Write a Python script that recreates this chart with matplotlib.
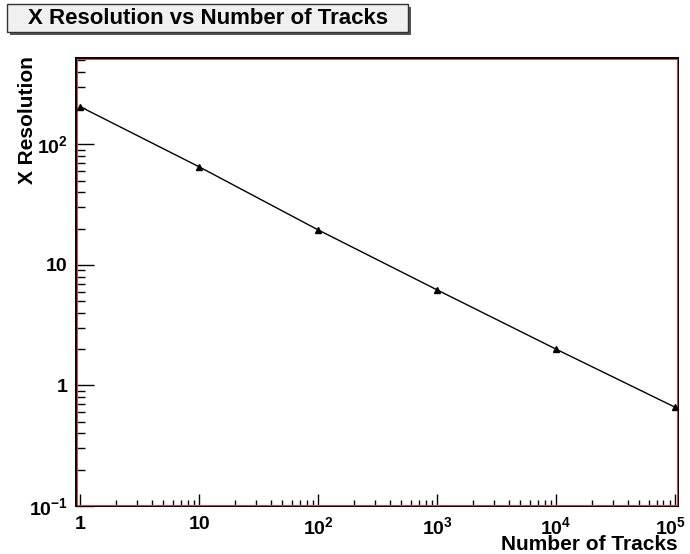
import numpy as np
import matplotlib
matplotlib.use("Agg")
import matplotlib.pyplot as plt
import matplotlib.transforms as mtransforms
from matplotlib.patches import Rectangle
from matplotlib.ticker import LogLocator, FixedLocator, FixedFormatter, NullFormatter

plt.rcParams['font.family'] = ['Liberation Sans', 'DejaVu Sans']
plt.rcParams['font.weight'] = 'bold'
plt.rcParams['mathtext.fontset'] = 'custom'
plt.rcParams['mathtext.rm'] = 'Liberation Sans:bold'
plt.rcParams['mathtext.it'] = 'Liberation Sans:bold'
plt.rcParams['mathtext.bf'] = 'Liberation Sans:bold'

# data
n_tracks = [1, 10, 100, 1000, 10000, 100000]
x_resolution = [205, 65, 19.5, 6.2, 2.0, 0.66]

x_ticks = [1, 10, 100, 1000, 10000, 100000]
x_tick_labels = ['1', '10', '$10^{2}$', '$10^{3}$', '$10^{4}$', '$10^{5}$']
y_ticks = [0.1, 1, 10, 100]
y_tick_labels = ['$10^{-1}$', '1', '10', '$10^{2}$']

W, H = 690, 554
fig = plt.figure(figsize=(W / 100, H / 100), dpi=100)
L, R, T, B = 76, 678, 58, 506
ax = fig.add_axes([L / W, 1 - B / H, (R - L) / W, (B - T) / H])

ax.plot(n_tracks, x_resolution, color='black', lw=1.0, marker='^', ms=5,
        markerfacecolor='black', markeredgecolor='black', clip_on=False, zorder=5)

ax.set_xscale('log')
ax.set_yscale('log')
ax.set_xlim(0.92, 1.06e5)
ax.set_ylim(0.1, 520)

ax.xaxis.set_major_locator(FixedLocator(x_ticks))
ax.xaxis.set_major_formatter(FixedFormatter(x_tick_labels))
ax.xaxis.set_minor_locator(LogLocator(base=10, subs=np.arange(2, 10)))
ax.xaxis.set_minor_formatter(NullFormatter())
ax.yaxis.set_major_locator(FixedLocator(y_ticks))
ax.yaxis.set_major_formatter(FixedFormatter(y_tick_labels))
ax.yaxis.set_minor_locator(LogLocator(base=10, subs=np.arange(2, 10)))
ax.yaxis.set_minor_formatter(NullFormatter())

ax.tick_params(axis='x', which='major', direction='in', length=9, width=1, pad=7,
               labelsize=14, top=False)
ax.tick_params(axis='x', which='minor', direction='in', length=4.5, width=1, top=False)
ax.tick_params(axis='y', which='major', direction='in', length=13, width=1, pad=6,
               labelsize=14, right=False)
ax.tick_params(axis='y', which='minor', direction='in', length=6.5, width=1, right=False)
for lab in ax.get_xticklabels() + ax.get_yticklabels():
    lab.set_fontweight('bold')

# nudge the last x label left so it stays inside the canvas
shift = mtransforms.ScaledTranslation(-4 / 100, 0, fig.dpi_scale_trans)
last = ax.xaxis.get_major_ticks()[-1].label1
last.set_transform(last.get_transform() + shift)

for s in ax.spines.values():
    s.set_color('black')
    s.set_linewidth(1.4)
    s.set_zorder(2)

# thin red inner frame line, right inside the black frame
ax.add_artist(Rectangle(((L + 1.3) / W, 1 - (B - 1.3) / H), (R - L - 2.6) / W,
                        (B - T - 2.6) / H, transform=fig.transFigure,
                        fill=False, edgecolor='#e04040', lw=0.7, zorder=3,
                        clip_on=False))

# axis titles
fig.text(R / W, 1 - 545 / H, 'Number of Tracks', ha='right', va='center',
         fontsize=15, fontweight='bold')
fig.text(28 / W, 1 - 56 / H, 'X Resolution', ha='center', va='top', rotation=90,
         fontsize=15, fontweight='bold')

# title box with shadow
fig.patches.append(Rectangle((10 / W, 1 - 35 / H), 401 / W, 28 / H,
                             transform=fig.transFigure, facecolor='#555555',
                             edgecolor='none'))
fig.patches.append(Rectangle((7 / W, 1 - 32 / H), 401 / W, 28 / H,
                             transform=fig.transFigure, facecolor='#f0f0f0',
                             edgecolor='#333333', lw=1))
fig.text(208 / W, 1 - 18 / H, 'X Resolution vs Number of Tracks', ha='center',
         va='center', fontsize=16, fontweight='bold')

fig.savefig('out.png', dpi=100)
